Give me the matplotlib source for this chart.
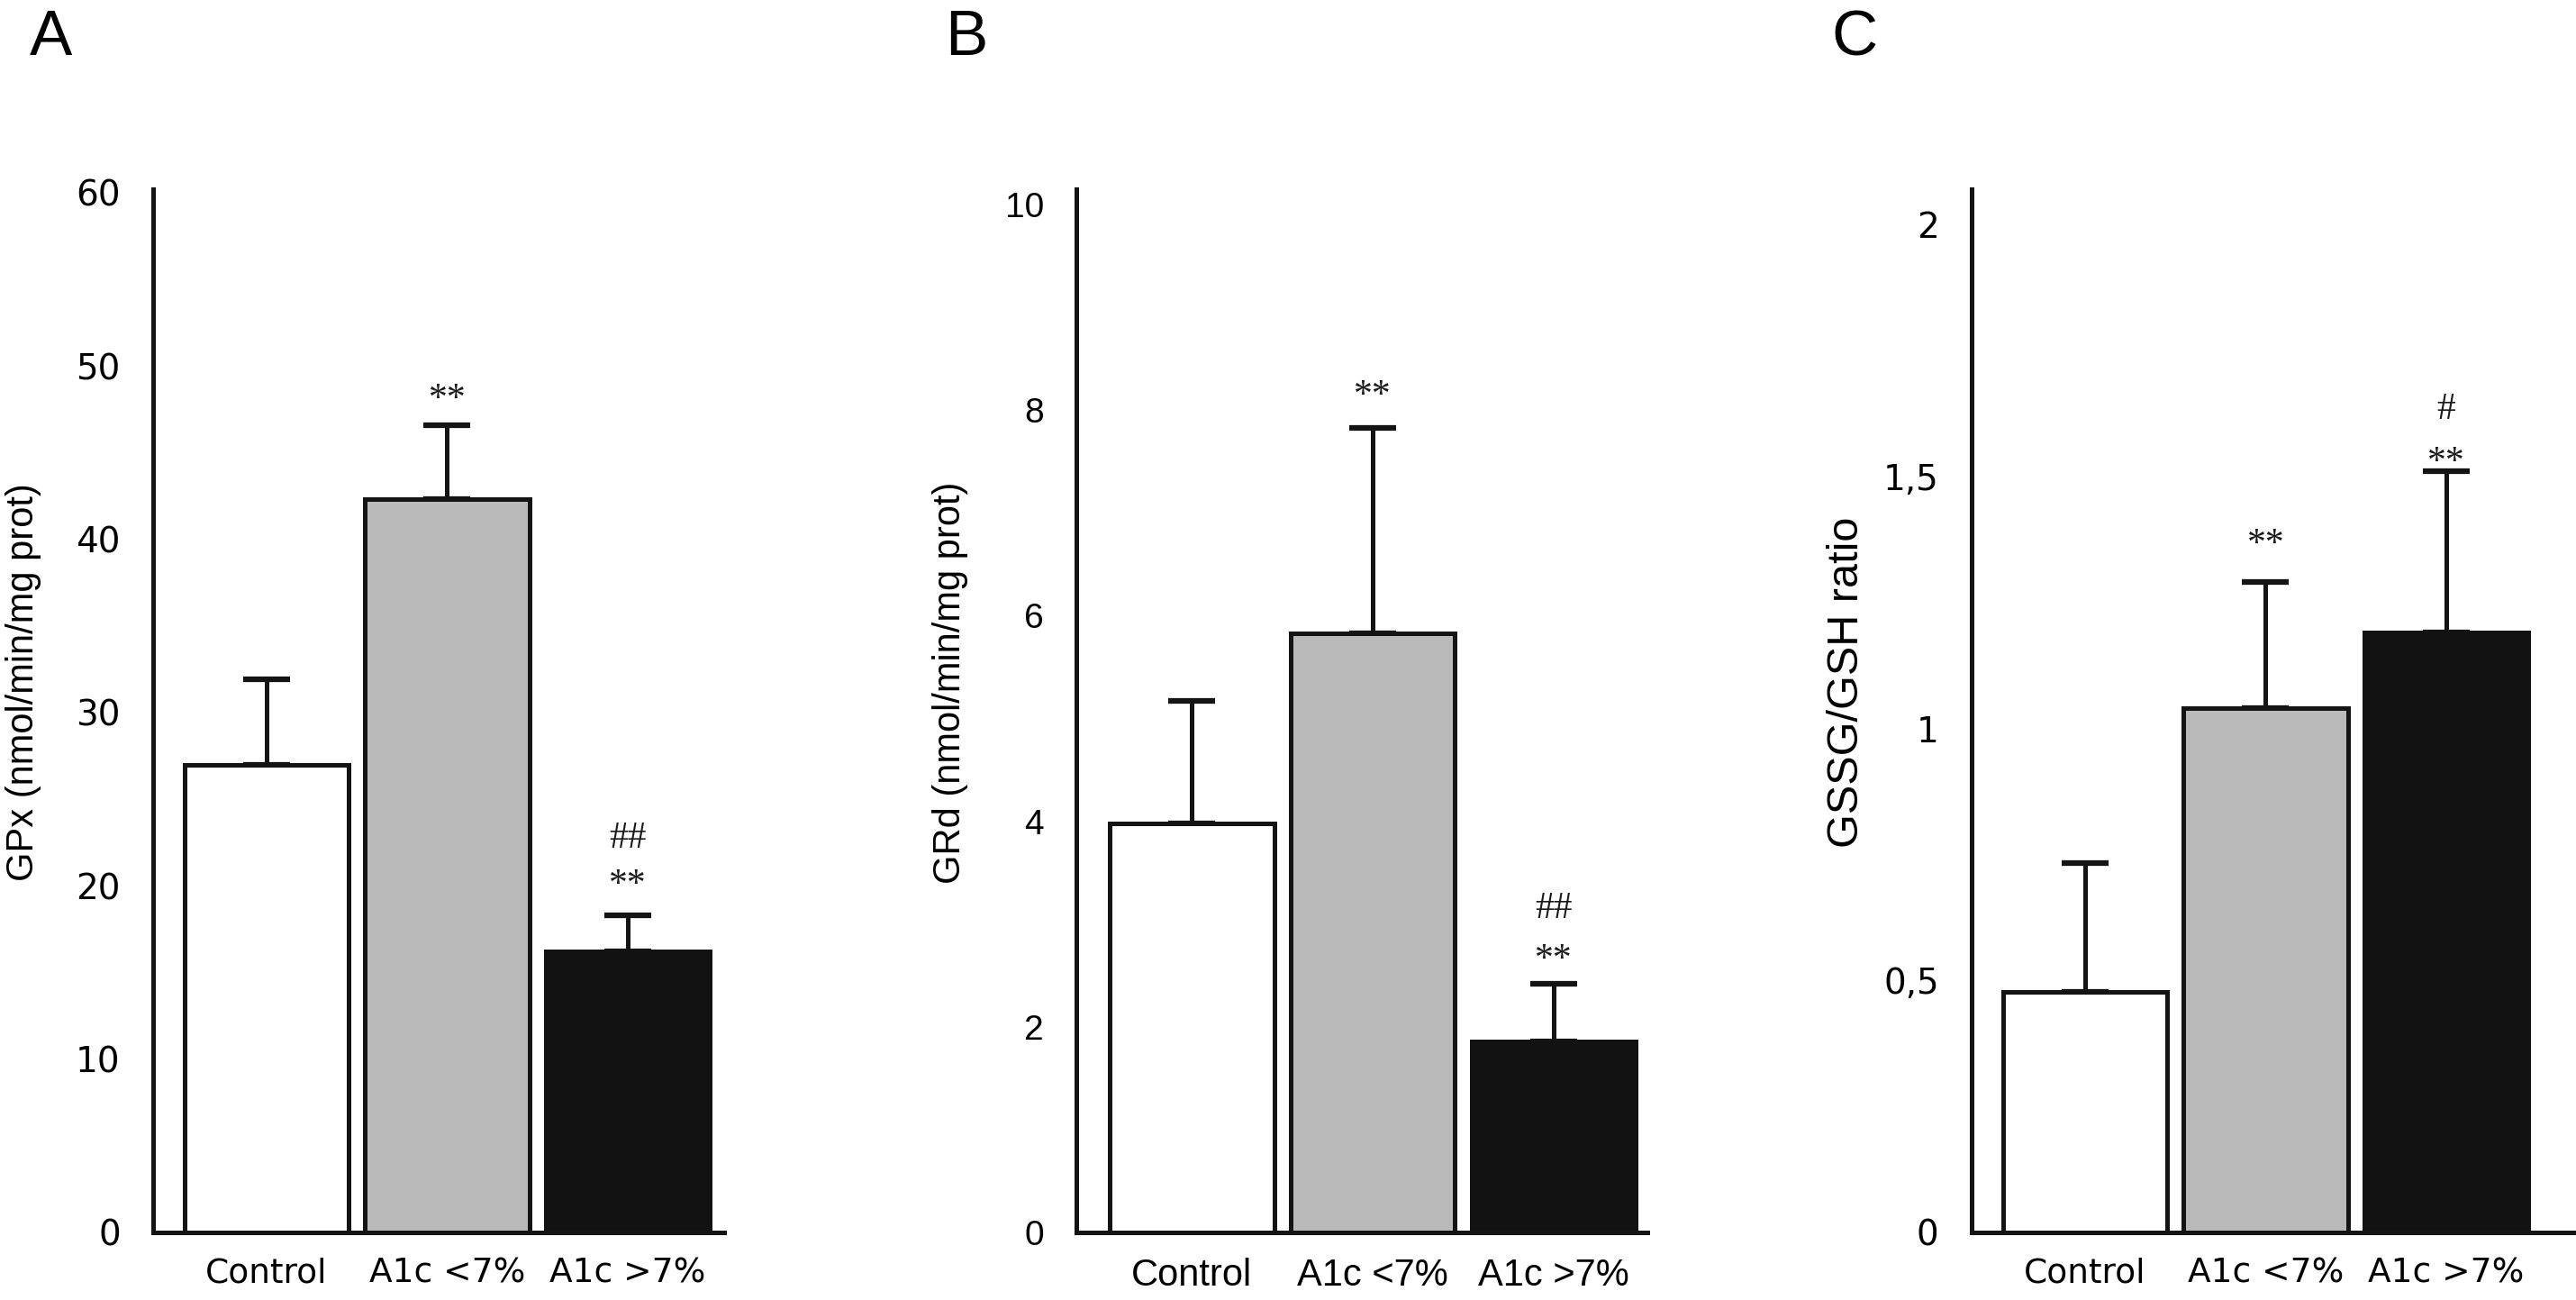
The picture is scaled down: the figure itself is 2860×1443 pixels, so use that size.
import numpy as np
import matplotlib
matplotlib.use('Agg')
import matplotlib.pyplot as plt


plt.rcParams.update({'font.family': ['DejaVu Sans'], 'font.size': 28})

GROUPS = ['Control', 'A1c <7%', 'A1c >7%']

GPX_MEAN = [27.0, 42.3, 16.2]
GPX_SD = [4.9, 4.3, 2.1]
GRD_MEAN = [3.98, 5.83, 1.86]
GRD_SD = [1.19, 2.0, 0.56]
RATIO_MEAN = [0.478, 1.04, 1.19]
RATIO_SD = [0.255, 0.25, 0.32]

GPX_TICKS = [0, 10, 20, 30, 40, 50, 60]
GRD_TICKS = [0, 2, 4, 6, 8, 10]
RATIO_TICKS = [0, 0.5, 1, 1.5, 2]
RATIO_TICKLABELS = ['0', '0,5', '1', '1,5', '2']

# significance marks per bar (bottom to top)
GPX_MARKS = [[], ['**'], ['**', '##']]
GRD_MARKS = [[], ['**'], ['**', '##']]
RATIO_MARKS = [[], ['**'], ['**', '#']]

FILLS = ['white', '#b9bab9', '#121212']
EDGES = ['#141414', '#141414', '#121212']
WIDE = ['DejaVu Sans']
NARROW = ['Liberation Sans Narrow', 'Liberation Sans', 'DejaVu Sans']
SERIF = ['Liberation Serif', 'DejaVu Serif']


def draw_panel(axis, means, sds, ticks, ticklabels, ylim, xlim, font, xsize, marks, first_off, step):
	x = np.arange(len(means))
	axis.bar(x, means, width=0.91, color=FILLS, edgecolor=EDGES, linewidth=3.6, zorder=2)
	axis.errorbar(x, means, yerr=[np.zeros(len(sds)), sds], fmt='none', ecolor='#141414',
		elinewidth=3.6, capsize=19, capthick=4.5, zorder=1)
	for xi, (m, s, labels) in enumerate(zip(means, sds, marks)):
		for j, lab in enumerate(labels):
			off = first_off[xi] + j * step[xi]
			axis.annotate(lab, (xi, m + s), xytext=(0, off), textcoords='offset points',
				ha='center', va='center', family=SERIF, fontsize=30, color='#1a1a1a')
	axis.set_xlim(*xlim)
	axis.set_ylim(*ylim)
	axis.set_xticks(x)
	axis.set_xticklabels(GROUPS, family=font, fontsize=xsize)
	axis.set_yticks(ticks)
	axis.set_yticklabels(ticklabels, family=font, fontsize=28)
	axis.tick_params(length=0, pad=26)
	axis.tick_params(axis='x', pad=20)
	for side in ['top', 'right']:
		axis.spines[side].set_visible(False)
	for side in ['left', 'bottom']:
		axis.spines[side].set_linewidth(3.6)
		axis.spines[side].set_color('#141414')
	axis.spines['bottom'].set_zorder(3)


fig = plt.figure(figsize=(28.6, 14.43), dpi=100)
bottom, height = 0.052, 0.8025
ax_a = fig.add_axes([0.0594, bottom, 0.2217, height])
ax_b = fig.add_axes([0.4178, bottom, 0.2218, height])
ax_c = fig.add_axes([0.7653, bottom, 0.2347, height])

draw_panel(ax_a, GPX_MEAN, GPX_SD, GPX_TICKS, [str(t) for t in GPX_TICKS], (0, 60.2),
	(-0.63, 2.535), WIDE, 27, GPX_MARKS, [0, 20, 24], [0, 0, 37])
draw_panel(ax_b, GRD_MEAN, GRD_SD, GRD_TICKS, [str(t) for t in GRD_TICKS], (0, 10.15),
	(-0.64, 2.52), NARROW, 30, GRD_MARKS, [0, 25, 19], [0, 0, 41])
draw_panel(ax_c, RATIO_MEAN, RATIO_SD, RATIO_TICKS, RATIO_TICKLABELS, (0, 2.07),
	(-0.63, 2.72), WIDE, 27, RATIO_MARKS, [0, 30, 7], [0, 0, 42])

ylabel_kw = dict(rotation=90, ha='center', va='center', family=NARROW)
fig.text(0.009, 0.475, 'GPx (nmol/min/mg prot)', fontsize=30, **ylabel_kw)
fig.text(0.369, 0.475, 'GRd (nmol/min/mg prot)', fontsize=30, **ylabel_kw)
fig.text(0.717, 0.475, 'GSSG/GSH ratio', fontsize=35, **ylabel_kw)

letter_kw = dict(ha='left', va='top', family=['Liberation Sans', 'DejaVu Sans'], fontsize=51)
fig.text(0.0115, 0.993, 'A', **letter_kw)
fig.text(0.367, 0.993, 'B', **letter_kw)
fig.text(0.711, 0.993, 'C', **letter_kw)

fig.savefig('out.png', dpi=100)
